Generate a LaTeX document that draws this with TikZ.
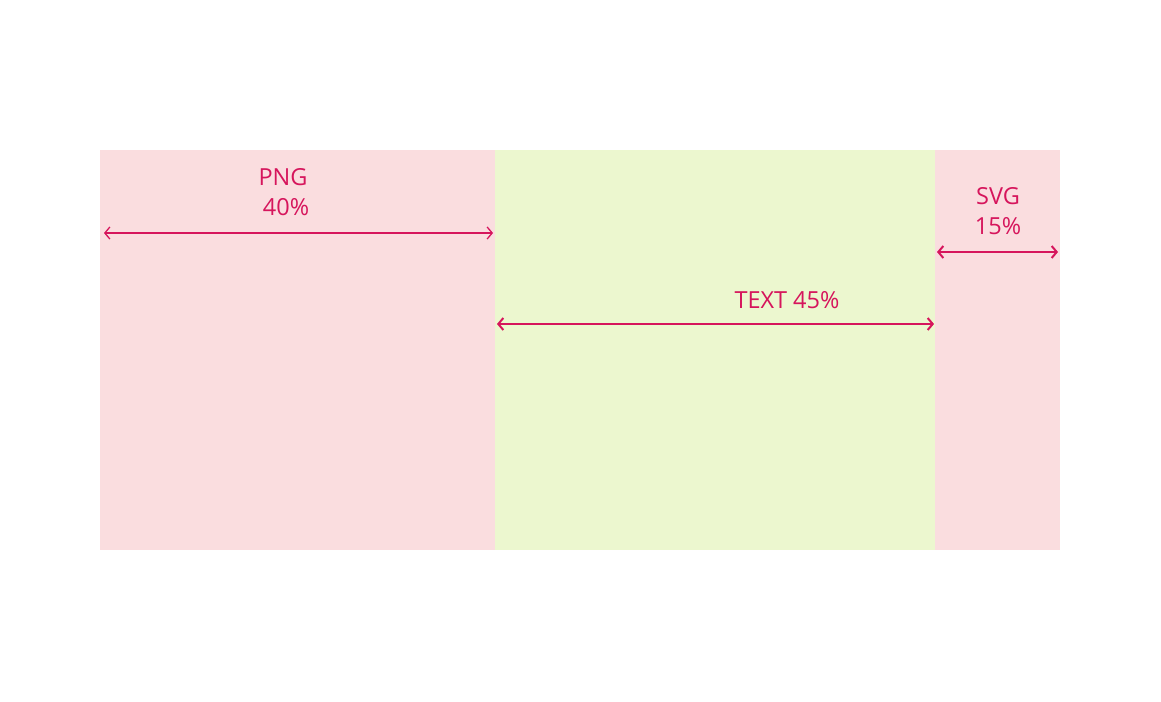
\documentclass[tikz,border=0pt]{standalone}
\usepackage{fontspec}
\setmainfont{Open Sans}
\usetikzlibrary{arrows.meta}
\definecolor{pinkbg}{HTML}{FADDDF}
\definecolor{greenbg}{HTML}{ECF7CF}
\definecolor{mag}{HTML}{D6155C}
\begin{document}
\begin{tikzpicture}[x=1pt,y=-1pt,
  region/.style={draw=none,inner sep=0pt,outer sep=0pt,anchor=north west},
  lbl/.style={text=mag,font=\fontsize{23.5}{30}\selectfont,inner sep=0pt,align=center},
  dim/.style={draw=mag,{Straight Barb[length=5pt,width=12pt]}-{Straight Barb[length=5pt,width=12pt]}}]
\useasboundingbox[fill=white] (0,0) rectangle (1161,701);
\node[region,fill=pinkbg,minimum width=395pt,minimum height=400pt] (png) at (100,150) {};
\node[region,fill=greenbg,minimum width=440pt,minimum height=400pt] (text) at (495,150) {};
\node[region,fill=pinkbg,minimum width=125pt,minimum height=400pt] (svg) at (935,150) {};
\node[lbl] (pngl) at (283,192) {PNG\\\ 40\%};
\node[lbl] (svgl) at (998,211) {SVG\\15\%};
\node[lbl] (textl) at (787,300) {TEXT 45\%};
\coordinate (p1) at (104,233);
\coordinate (p2) at (493,233);
\coordinate (s1) at (937,252);
\coordinate (s2) at (1058,252);
\coordinate (t1) at (497,324);
\coordinate (t2) at (934,324);
\draw[dim,line width=1.3pt] (p1) -- (p2);
\draw[dim,line width=2pt] (s1) -- (s2);
\draw[dim,line width=2pt] (t1) -- (t2);
\end{tikzpicture}
\end{document}
